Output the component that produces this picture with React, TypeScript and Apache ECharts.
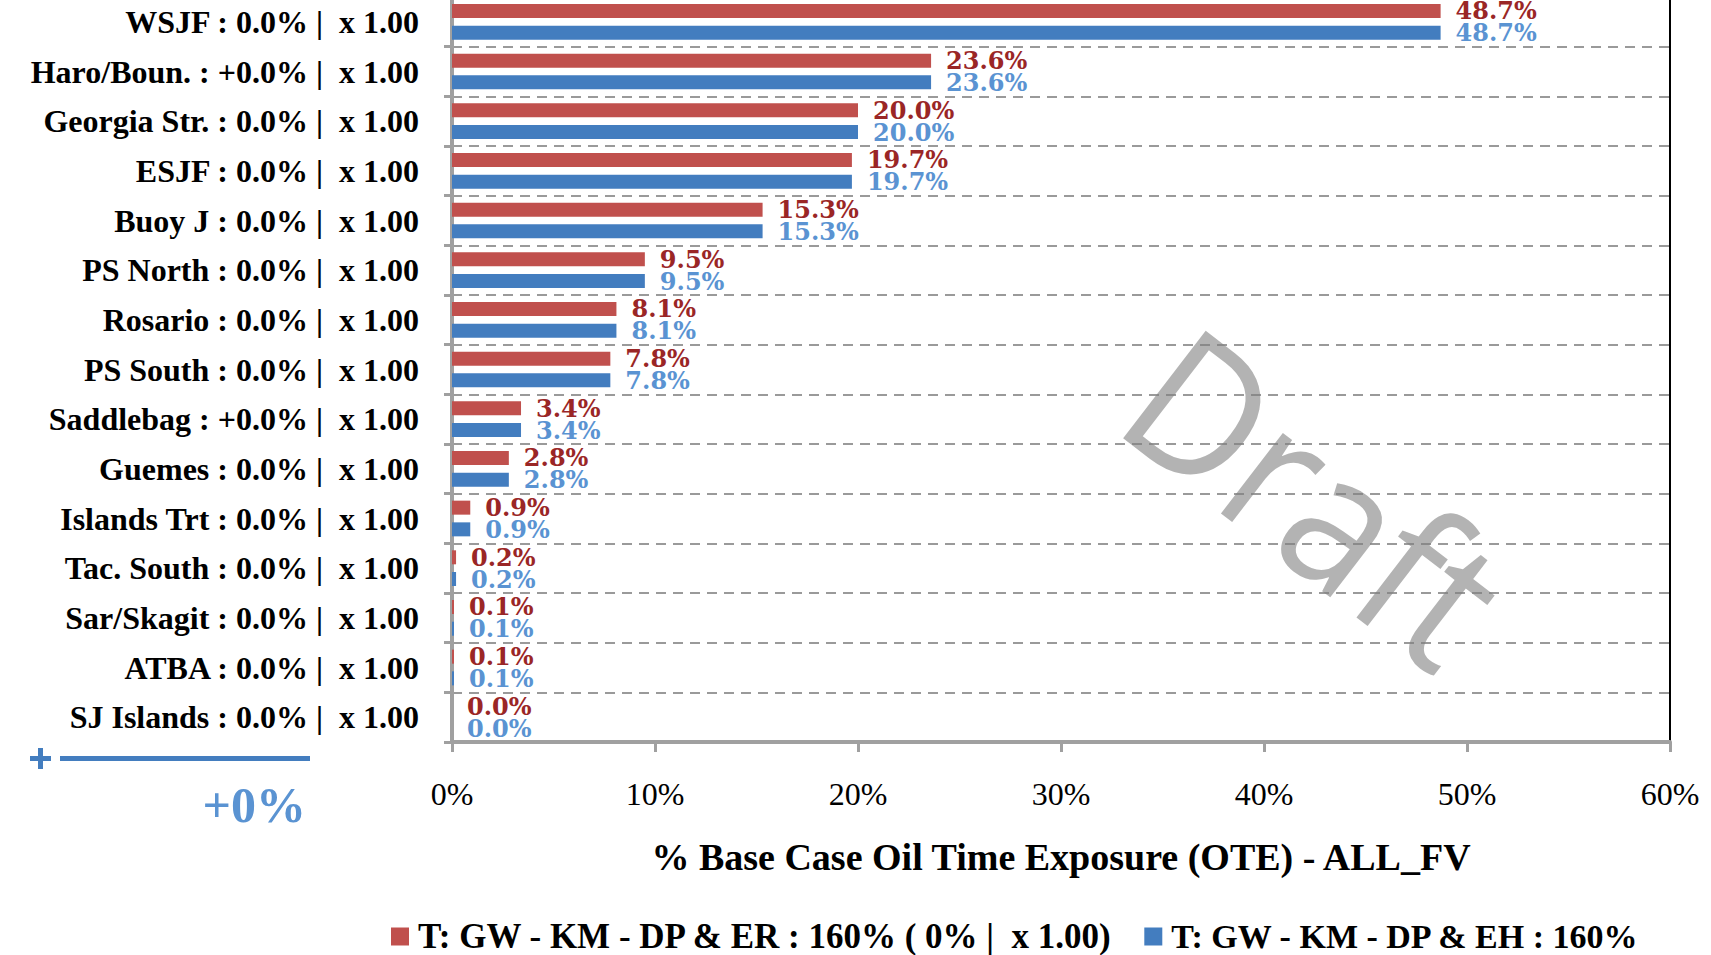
import React, { useEffect, useRef } from "react";
import * as echarts from "echarts";

const categories = [
  "WSJF", "Haro/Boun.", "Georgia Str.", "ESJF", "Buoy J", "PS North", "Rosario",
  "PS South", "Saddlebag", "Guemes", "Islands Trt", "Tac. South", "Sar/Skagit", "ATBA", "SJ Islands",
];
const changeLabels = [
  "0.0%", "+0.0%", "0.0%", "0.0%", "0.0%", "0.0%", "0.0%",
  "0.0%", "+0.0%", "0.0%", "0.0%", "0.0%", "0.0%", "0.0%", "0.0%",
];
const multipliers = [
  "1.00", "1.00", "1.00", "1.00", "1.00", "1.00", "1.00",
  "1.00", "1.00", "1.00", "1.00", "1.00", "1.00", "1.00", "1.00",
];
const redValues = [48.7, 23.6, 20.0, 19.7, 15.3, 9.5, 8.1, 7.8, 3.4, 2.8, 0.9, 0.2, 0.1, 0.1, 0.0];
const blueValues = [48.7, 23.6, 20.0, 19.7, 15.3, 9.5, 8.1, 7.8, 3.4, 2.8, 0.9, 0.2, 0.1, 0.1, 0.0];
const redName = "T: GW - KM - DP & ER : 160% ( 0% |  x 1.00)";
const blueName = "T: GW - KM - DP & EH : 160%";
const xMin = 0;
const xMax = 60;
const xStep = 10;
const axisTitle = "% Base Case Oil Time Exposure (OTE) - ALL_FV";
const changeText = "+0%";
const watermark = "Draft";

const SERIF = "'Liberation Serif', 'Times New Roman', serif";
const RED = "#C0504D";
const BLUE = "#437DBF";
const RED_LABEL = "#9A2626";
const BLUE_LABEL = "#5A93D2";
const GRAY = "#A0A0A0";

export default function App() {
  const ref = useRef<HTMLDivElement>(null);
  useEffect(() => {
    if (!ref.current) return;
    const chart = echarts.init(ref.current, null, { renderer: "svg" });
    const labelFmt = (p: any) => `${Number(p.value).toFixed(1)}%`;
    const dataLabel = (color: string) => ({
      show: true,
      position: "right",
      distance: 15,
      formatter: labelFmt,
      fontFamily: "'DejaVu Serif', serif",
      fontWeight: "bold",
      fontSize: 24,
      color,
    });
    const option: any = {
      animation: false,
      backgroundColor: "#ffffff",
      grid: {
        left: 452,
        right: 41,
        top: -3,
        bottom: 213,
        containLabel: false,
        outerBoundsMode: "none",
        show: true,
        borderColor: "#000000",
        borderWidth: 2,
        backgroundColor: "transparent",
      },
      legend: {
        left: 391,
        top: 919,
        padding: 0,
        itemWidth: 18,
        itemHeight: 18,
        itemGap: 31,
        icon: "rect",
        textStyle: {
          fontFamily: SERIF,
          fontWeight: "bold",
          fontSize: 34,
          color: "#000000",
          padding: [0, 0, 0, 4],
        },
        data: [
          { name: redName, textStyle: { fontSize: 35 } },
          { name: blueName, textStyle: { fontSize: 34 } },
        ],
      },
      xAxis: {
        type: "value",
        min: xMin,
        max: xMax,
        interval: xStep,
        name: axisTitle,
        nameLocation: "middle",
        nameGap: 96,
        nameTextStyle: {
          fontFamily: SERIF,
          fontWeight: "bold",
          fontSize: 38,
          color: "#000000",
        },
        axisLine: { show: true, lineStyle: { color: GRAY, width: 4 } },
        axisTick: { show: true, length: 10, lineStyle: { color: GRAY, width: 3 } },
        axisLabel: {
          formatter: "{value}%",
          margin: 36,
          fontFamily: SERIF,
          fontSize: 32,
          color: "#000000",
        },
        splitLine: { show: false },
      },
      yAxis: {
        type: "category",
        data: categories,
        inverse: true,
        axisLine: { show: true, lineStyle: { color: GRAY, width: 4 } },
        axisTick: { show: true, length: 8, lineStyle: { color: GRAY, width: 3 } },
        axisLabel: {
          margin: 33,
          fontFamily: SERIF,
          fontWeight: "bold",
          fontSize: 32,
          color: "#000000",
          formatter: (v: string, i: number) => `${v} : ${changeLabels[i]} |  x ${multipliers[i]}`,
        },
        splitLine: {
          show: true,
          lineStyle: { color: "#9A9A9A", width: 2, type: [10, 7] },
        },
      },
      series: [
        {
          name: redName,
          type: "bar",
          data: redValues,
          barWidth: 14,
          barGap: "55%",
          itemStyle: { color: RED },
          label: dataLabel(RED_LABEL),
        },
        {
          name: blueName,
          type: "bar",
          data: blueValues,
          barWidth: 14,
          barGap: "55%",
          itemStyle: { color: BLUE },
          label: dataLabel(BLUE_LABEL),
        },
      ],
      graphic: [
        {
          type: "line",
          shape: { x1: 30, y1: 758.5, x2: 51, y2: 758.5 },
          style: { stroke: BLUE, lineWidth: 5 },
        },
        {
          type: "line",
          shape: { x1: 40.5, y1: 748, x2: 40.5, y2: 769 },
          style: { stroke: BLUE, lineWidth: 5 },
        },
        {
          type: "line",
          shape: { x1: 60, y1: 758.5, x2: 310, y2: 758.5 },
          style: { stroke: BLUE, lineWidth: 5 },
        },
        {
          type: "text",
          x: 306,
          y: 805,
          style: {
            text: changeText,
            fontFamily: SERIF,
            fontWeight: "bold",
            fontSize: 50,
            fill: BLUE_LABEL,
            align: "right",
            verticalAlign: "middle",
          },
        },
        {
          type: "text",
          x: 1318,
          y: 495,
          rotation: (-37.5 * Math.PI) / 180,
          scaleX: 0.91,
          z: 100,
          style: {
            text: watermark,
            fontFamily: "'Open Sans', sans-serif",
            fontSize: 190,
            fill: "rgba(128,128,128,0.6)",
            align: "center",
            verticalAlign: "middle",
          },
        },
      ],
    };
    chart.setOption(option);
    return () => chart.dispose();
  }, []);
  return (
    <div
      ref={ref}
      style={{ position: "absolute", left: 0, top: 0, width: 1711, height: 955 }}
    />
  );
}
